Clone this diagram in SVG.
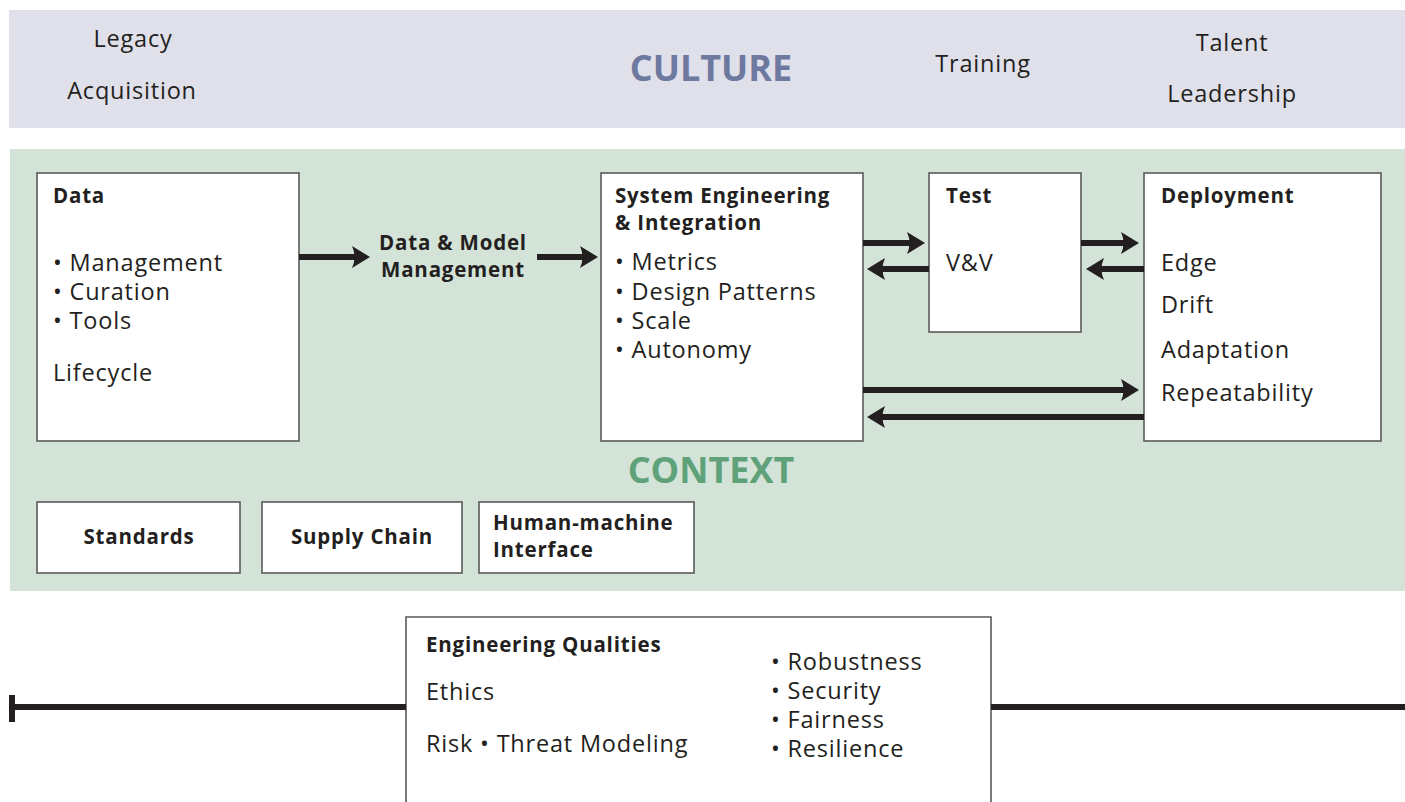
<svg xmlns="http://www.w3.org/2000/svg" width="1405" height="802" viewBox="0 0 1405 802">
<defs>
<marker id="ah" markerUnits="userSpaceOnUse" markerWidth="20" markerHeight="22" refX="6" refY="11" orient="auto" overflow="visible">
<path d="M0,0 L18,11 L0,22 Q5,11 0,0 Z" fill="#231f20"/>
</marker>
</defs>
<style>
text{font-family:"Open Sans","Noto Sans","Liberation Sans",sans-serif;fill:#231f20}
.t{font-size:23.5px;letter-spacing:0.8px}
.b{font-size:20.5px;font-weight:700;letter-spacing:0.8px}
.box{fill:#fff;stroke:#5a5a5a;stroke-width:1.6}
.c{text-anchor:middle}
.arr{stroke:#231f20;stroke-width:6;fill:none}
</style>
<rect x="0" y="0" width="1405" height="802" fill="#fff"/>
<g id="culture">
<rect x="9" y="10" width="1396" height="118" fill="#e0e0ea"/>
<text class="t c" x="133" y="47">Legacy</text>
<text class="t c" x="132" y="99">Acquisition</text>
<text x="711" y="81" class="c" style="font-size:36px;font-weight:700;fill:#6e79a0">CULTURE</text>
<text class="t c" x="983" y="72">Training</text>
<text class="t c" x="1232" y="51">Talent</text>
<text class="t c" x="1232" y="102">Leadership</text>
</g>
<g id="context">
<rect x="10" y="149" width="1395" height="442" fill="#d3e3d8"/>
<text x="711" y="483" class="c" style="font-size:36px;font-weight:700;fill:#5fa27a">CONTEXT</text>
</g>
<g id="data">
<rect class="box" x="37" y="173" width="262" height="268"/>
<text class="b" x="53" y="203">Data</text>
<text class="t" x="53" y="271">• Management</text>
<text class="t" x="53" y="300">• Curation</text>
<text class="t" x="53" y="329">• Tools</text>
<text class="t" x="53" y="381">Lifecycle</text>
</g>
<g id="dmm">
<text class="b c" x="453" y="250">Data &amp; Model</text>
<text class="b c" x="453" y="277">Management</text>
</g>
<g id="se">
<rect class="box" x="601" y="173" width="262" height="268"/>
<text class="b" x="615" y="203">System Engineering</text>
<text class="b" x="615" y="230">&amp; Integration</text>
<text class="t" x="615" y="270">• Metrics</text>
<text class="t" x="615" y="300">• Design Patterns</text>
<text class="t" x="615" y="329">• Scale</text>
<text class="t" x="615" y="358">• Autonomy</text>
</g>
<g id="test">
<rect class="box" x="929" y="173" width="152" height="159"/>
<text class="b" x="946" y="203">Test</text>
<text class="t" x="946" y="271">V&amp;V</text>
</g>
<g id="deployment">
<rect class="box" x="1144" y="173" width="237" height="268"/>
<text class="b" x="1161" y="203">Deployment</text>
<text class="t" x="1161" y="271">Edge</text>
<text class="t" x="1161" y="313">Drift</text>
<text class="t" x="1161" y="358">Adaptation</text>
<text class="t" x="1161" y="401">Repeatability</text>
</g>
<g id="standards">
<rect class="box" x="37" y="502" width="203" height="71"/>
<text class="b c" x="139" y="544">Standards</text>
</g>
<g id="supply-chain">
<rect class="box" x="262" y="502" width="200" height="71"/>
<text class="b c" x="362" y="544">Supply Chain</text>
</g>
<g id="hmi">
<rect class="box" x="479" y="502" width="215" height="71"/>
<text class="b" x="493" y="530">Human-machine</text>
<text class="b" x="493" y="557">Interface</text>
</g>
<g id="engineering-qualities">
<path d="M406,802 V617 H991 V802" fill="#fff" stroke="#5a5a5a" stroke-width="1.6"/>
<text class="b" x="426" y="652">Engineering Qualities</text>
<text class="t" x="426" y="700">Ethics</text>
<text class="t" x="426" y="752">Risk • Threat Modeling</text>
<text class="t" x="771" y="670">• Robustness</text>
<text class="t" x="771" y="699">• Security</text>
<text class="t" x="771" y="728">• Fairness</text>
<text class="t" x="771" y="757">• Resilience</text>
</g>
<g id="connectors">
<line class="arr" x1="299" y1="257" x2="358" y2="257" marker-end="url(#ah)"/>
<line class="arr" x1="537" y1="257" x2="586" y2="257" marker-end="url(#ah)"/>
<line class="arr" x1="863" y1="243" x2="913" y2="243" marker-end="url(#ah)"/>
<line class="arr" x1="929" y1="269" x2="879" y2="269" marker-end="url(#ah)"/>
<line class="arr" x1="1081" y1="243" x2="1127" y2="243" marker-end="url(#ah)"/>
<line class="arr" x1="1144" y1="269" x2="1098" y2="269" marker-end="url(#ah)"/>
<line class="arr" x1="863" y1="390" x2="1127" y2="390" marker-end="url(#ah)"/>
<line class="arr" x1="1144" y1="417" x2="879" y2="417" marker-end="url(#ah)"/>
<line class="arr" x1="12" y1="707" x2="406" y2="707"/>
<line class="arr" x1="991" y1="707" x2="1405" y2="707"/>
<rect x="9" y="695" width="6" height="27" fill="#231f20"/>
</g>
</svg>
